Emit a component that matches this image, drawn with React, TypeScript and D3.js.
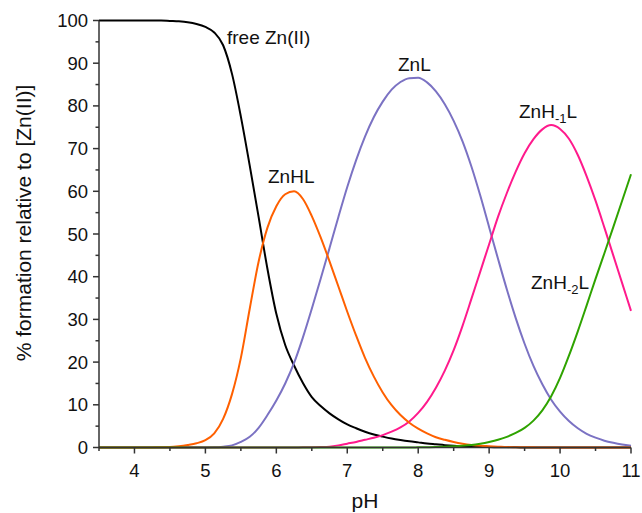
import React from "react";
import * as d3 from "d3";

// pH grid shared by all species
const pH = [
  3.5, 3.625, 3.75, 3.875, 4.0, 4.125, 4.25, 4.375, 4.5, 4.625, 4.75, 4.875,
  5.0, 5.125, 5.25, 5.375, 5.5, 5.625, 5.75, 5.875, 6.0, 6.125, 6.25, 6.375,
  6.5, 6.625, 6.75, 6.875, 7.0, 7.125, 7.25, 7.375, 7.5, 7.625, 7.75, 7.875,
  8.0, 8.125, 8.25, 8.375, 8.5, 8.625, 8.75, 8.875, 9.0, 9.125, 9.25, 9.375,
  9.5, 9.625, 9.75, 9.875, 10.0, 10.125, 10.25, 10.375, 10.5, 10.625, 10.75,
  10.875, 11.0,
];

// % of total Zn(II) present as each species
const freeZn = [
  100, 100, 100, 100, 100, 100, 100, 100, 99.9, 99.8, 99.6, 99.2,
  98.5, 97.2, 94.2, 87.5, 77.5, 66, 54, 41.8, 31.3, 24, 19.2, 15.1,
  11.8, 9.7, 8.0, 6.6, 5.4, 4.5, 3.7, 3.05, 2.55, 2.1, 1.75, 1.45,
  1.2, 0.95, 0.75, 0.55, 0.4, 0.3, 0.22, 0.15, 0.1, 0.07, 0.05, 0.03,
  0.02, 0, 0, 0, 0, 0, 0, 0, 0, 0, 0, 0, 0,
];
const ZnHL = [
  0, 0, 0, 0, 0, 0, 0.02, 0.05, 0.1, 0.3, 0.6, 1.0,
  1.7, 3.3, 6.7, 12.5, 21, 32.5, 43.5, 51.5, 56.5, 59.3, 60, 58.2,
  54.2, 49.2, 43.6, 37.7, 31.8, 26.2, 21, 16.6, 12.9, 9.9, 7.6, 5.8,
  4.4, 3.3, 2.4, 1.8, 1.3, 0.9, 0.6, 0.4, 0.3, 0.2, 0.1, 0.07,
  0.05, 0.03, 0.02, 0.01, 0, 0, 0, 0, 0, 0, 0, 0, 0,
];
const ZnL = [
  0, 0, 0, 0, 0, 0, 0, 0, 0, 0, 0, 0,
  0.02, 0.05, 0.2, 0.5, 1.3, 2.5, 4.6, 7.6, 11, 15, 19.8, 25.8,
  32.5, 39.5, 46.7, 54, 61, 67.3, 72.8, 77.4, 81, 83.8, 85.6, 86.5,
  86.6, 85.5, 83.4, 80.4, 76.5, 71.7, 65.8, 59, 51.6, 44.2, 37, 30.3,
  24.3, 19.1, 14.8, 11.2, 8.4, 6.2, 4.5, 3.2, 2.3, 1.6, 1.1, 0.7, 0.4,
];
const ZnHm1L = [
  0, 0, 0, 0, 0, 0, 0, 0, 0, 0, 0, 0,
  0, 0, 0, 0, 0, 0, 0, 0, 0, 0, 0.02, 0.03,
  0.05, 0.1, 0.2, 0.5, 0.9, 1.3, 1.8, 2.3, 2.9, 3.7, 4.7, 6.1,
  8.1, 10.7, 14.0, 18.0, 22.8, 28.5, 34.8, 41.2, 47.6, 54, 59.6, 64.6,
  68.9, 72.2, 74.5, 75.5, 74.6, 72.3, 68.5, 63.5, 57.8, 51.5, 45, 38.5, 32,
];
const ZnHm2L = [
  0, 0, 0, 0, 0, 0, 0, 0, 0, 0, 0, 0,
  0, 0, 0, 0, 0, 0, 0, 0, 0, 0, 0, 0,
  0, 0, 0, 0, 0, 0, 0, 0, 0, 0, 0, 0,
  0.03, 0.06, 0.1, 0.2, 0.3, 0.42, 0.6, 0.9, 1.3, 1.8, 2.5, 3.4,
  4.6, 6.3, 8.7, 12, 16.3, 21.5, 27.2, 33.3, 39.5, 45.5, 51.6, 57.8, 64,
];

const xTicks = [4, 5, 6, 7, 8, 9, 10, 11];
const xMinorTicks = [3.5, 4.5, 5.5, 6.5, 7.5, 8.5, 9.5, 10.5];
const yTicks = [0, 10, 20, 30, 40, 50, 60, 70, 80, 90, 100];
const yMinorTicks = [5, 15, 25, 35, 45, 55, 65, 75, 85, 95];

// drawing order (last on top)
const series = [
  { name: "free", values: freeZn, color: "#000000" },
  { name: "ZnL", values: ZnL, color: "#7b72c3" },
  { name: "ZnH-1L", values: ZnHm1L, color: "#ff1a8c" },
  { name: "ZnHL", values: ZnHL, color: "#ff6000" },
  { name: "ZnH-2L", values: ZnHm2L, color: "#2fa300" },
];

const W = 642;
const H = 513;
const left = 99;
const right = 631;
const top = 20.5;
const bottom = 447.5;
const font = "'Liberation Sans', Arial, sans-serif";

export default function App() {
  const x = d3.scaleLinear().domain([3.5, 11]).range([left, right]);
  const y = d3.scaleLinear().domain([0, 100]).range([bottom, top]);
  const line = (vals: number[]) =>
    d3
      .line<number>()
      .x((_, i) => x(pH[i]))
      .y((v) => y(v))
      .curve(d3.curveMonotoneX)(vals) || "";

  const axisColor = "#333";

  return (
    <svg
      width={W}
      height={H}
      style={{ position: "absolute", left: 0, top: 0, background: "#fff" }}
      fontFamily={font}
    >
      <rect width={W} height={H} fill="#fff" />
      {series.map((s) => (
        <path
          key={s.name}
          d={line(s.values)}
          fill="none"
          stroke={s.color}
          strokeWidth={2}
          strokeLinejoin="round"
        />
      ))}

      {/* axes */}
      <line x1={left} x2={left} y1={top} y2={bottom} stroke={axisColor} strokeWidth={1.5} />
      <line x1={left} x2={right} y1={bottom} y2={bottom} stroke={axisColor} strokeWidth={1.5} />
      {yTicks.map((t) => (
        <g key={"y" + t}>
          <line x1={left - 6} x2={left} y1={y(t)} y2={y(t)} stroke={axisColor} strokeWidth={1.5} />
          <text x={88} y={y(t) + 6.5} textAnchor="end" fontSize={18.5} fill="#111">
            {t}
          </text>
        </g>
      ))}
      {yMinorTicks.map((t) => (
        <line key={"ym" + t} x1={left - 3.5} x2={left} y1={y(t)} y2={y(t)} stroke={axisColor} strokeWidth={1.5} />
      ))}
      {xTicks.map((t) => (
        <g key={"x" + t}>
          <line x1={x(t)} x2={x(t)} y1={bottom} y2={bottom + 6} stroke={axisColor} strokeWidth={1.5} />
          <text x={x(t)} y={477} textAnchor="middle" fontSize={18.5} fill="#111">
            {t}
          </text>
        </g>
      ))}
      {xMinorTicks.map((t) => (
        <line key={"xm" + t} x1={x(t)} x2={x(t)} y1={bottom} y2={bottom + 3.5} stroke={axisColor} strokeWidth={1.5} />
      ))}

      {/* axis titles */}
      <text x={(left + right) / 2} y={508} textAnchor="middle" fontSize={21} fill="#111">
        pH
      </text>
      <text
        transform={`translate(31,223) rotate(-90)`}
        textAnchor="middle"
        fontSize={21}
        fill="#111"
      >
        % formation relative to [Zn(II)]
      </text>

      {/* species labels */}
      <text x={227} y={44} fontSize={19} fill="#111">free Zn(II)</text>
      <text x={268} y={183} fontSize={19} fill="#111">ZnHL</text>
      <text x={398} y={71} fontSize={19} fill="#111">ZnL</text>
      <text x={519} y={118} fontSize={19} fill="#111">
        ZnH<tspan fontSize={13} dy={5}>-1</tspan><tspan dy={-5}>L</tspan>
      </text>
      <text x={531} y={289} fontSize={19} fill="#111">
        ZnH<tspan fontSize={13} dy={5}>-2</tspan><tspan dy={-5}>L</tspan>
      </text>
    </svg>
  );
}
